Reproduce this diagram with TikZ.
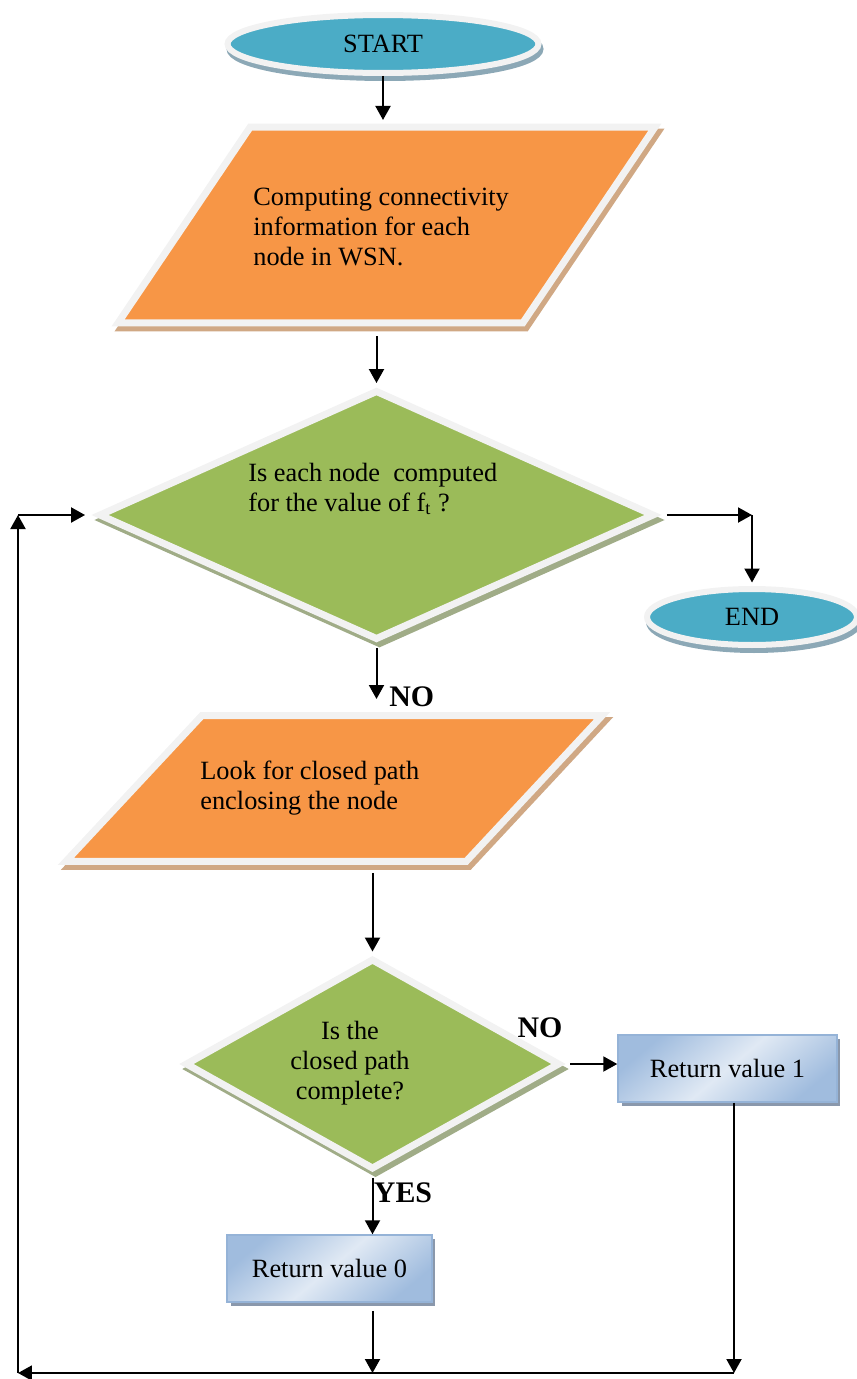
\documentclass[tikz,border=0pt]{standalone}
\usepackage{fontspec}
\setmainfont{Liberation Serif}
\usetikzlibrary{shapes.geometric,arrows.meta,shadows}
\definecolor{termfill}{RGB}{75,172,198}
\definecolor{termshade}{RGB}{140,168,182}
\definecolor{iofill}{RGB}{247,150,70}
\definecolor{ioshade}{RGB}{208,168,132}
\definecolor{decfill}{RGB}{155,187,89}
\definecolor{decshade}{RGB}{160,172,135}
\definecolor{rim}{RGB}{242,242,242}
\definecolor{boxedge}{RGB}{149,179,215}
\definecolor{boxdark}{RGB}{160,188,222}
\definecolor{boxlight}{RGB}{224,233,244}
\definecolor{boxshade}{RGB}{138,152,172}

\begin{document}
\begin{tikzpicture}[x=.02cm,y=-.02cm,
    font=\fontsize{15}{17}\selectfont,
    term/.style={ellipse,draw=rim,line width=.12cm,fill=termfill,inner sep=0pt,
      general shadow={shadow xshift=.04cm,shadow yshift=-.1cm,fill=termshade,draw=termshade}},
    io/.style={trapezium,trapezium stretches body,draw=rim,line width=.14cm,fill=iofill,inner sep=0pt,
      general shadow={shadow xshift=.06cm,shadow yshift=-.1cm,fill=ioshade,draw=ioshade}},
    dec/.style={diamond,draw=rim,line width=.14cm,fill=decfill,inner sep=0pt,
      general shadow={shadow xshift=.06cm,shadow yshift=-.1cm,fill=decshade,draw=decshade}},
    ret/.style={rectangle,draw=boxedge,line width=.03cm,top color=boxdark,bottom color=boxdark,
      middle color=boxlight,shading angle=40,minimum height=1.34cm,
      general shadow={shadow xshift=.07cm,shadow yshift=-.08cm,fill=boxshade}},
    txt/.style={align=left,inner sep=0pt},
    lbl/.style={font=\fontsize{17}{20}\selectfont\bfseries,inner sep=0pt},
    arr/.style={line width=.04cm,-{Triangle[length=.28cm,width=.3cm]}}]
  \useasboundingbox (0,0) rectangle (857,1379);

  % shapes
  \node[term,minimum width=6.22cm,minimum height=1.16cm] (start) at (383,44) {START};
  \node[io,trapezium left angle=56,trapezium right angle=124,
    minimum width=10.74cm] (p1) at (386.5,225) {\rule{0pt}{3.92cm}};
  \node[dec,minimum width=11.12cm,minimum height=5cm] (d1) at (376.5,515) {};
  \node[term,minimum width=4.2cm,minimum height=1.12cm] (end) at (752,617) {END};
  \node[io,trapezium left angle=47,trapezium right angle=133,
    minimum width=10.73cm] (p2) at (334,788.5) {\rule{0pt}{2.92cm}};
  \node[dec,minimum width=7.5cm,minimum height=4.22cm] (d2) at (372.5,1064) {};
  \node[ret,minimum width=4.38cm] (r1) at (727.5,1068.5) {Return value 1};
  \node[ret,minimum width=4.1cm] (r0) at (329.5,1268.5) {Return value 0};

  % texts
  \node[txt,anchor=west] (t1) at (253,227) {Computing connectivity\\information for each\\node in WSN.};
  \node[txt,anchor=west] (t2) at (248,489) {Is each node\ \ computed\\for the value of f\textsubscript{t} ?};
  \node[txt,anchor=west] (t3) at (200,788) {Look for closed path\\enclosing the node};
  \node[txt,align=center] (t4) at (350,1063) {Is the\\closed path\\complete?};
  \node[lbl,anchor=west] (no1) at (389,697) {NO};
  \node[lbl] (no2) at (540,1028) {NO};
  \node[lbl] (yes) at (403,1193) {YES};

  \coordinate (loopR) at (734,1373);
  \coordinate (loopL) at (18,1373);
  \coordinate (loopT) at (loopL |- d1.west);
  \coordinate (c1) at (end.north |- d1.east);

  % connectors
  \draw[arr,shorten >=.07cm] (start.south) -- (start.south |- p1.north);
  \draw[arr,shorten >=.07cm] ([yshift=-.2cm]p1.south -| d1.north) -- (d1.north);
  \draw[arr,shorten <=.18cm] (d1.east) -- (c1);
  \draw[arr,shorten >=.07cm] (c1) -- (end.north);
  \draw[arr,shorten <=.1cm] (d1.south) -- ([yshift=.26cm]d1.south |- p2.north);
  \draw[arr,shorten >=.07cm] ([yshift=-.16cm]p2.south -| d2.north) -- (d2.north);
  \draw[arr,shorten <=.14cm] (d2.east) -- (r1.west |- d2.east);
  \draw[arr,shorten <=.1cm] (d2.south) -- (d2.south |- r0.north);
  \draw[arr] ([yshift=-.16cm]r0.south -| d2.south) -- (d2.south |- loopR);
  \draw[arr] (r1.south -| loopR) -- (loopR);
  \draw[arr] (loopR) -- (loopL);
  \draw[arr] (loopL) -- (loopT);
  \draw[arr,shorten >=.2cm] (loopT) -- (d1.west);
\end{tikzpicture}
\end{document}
